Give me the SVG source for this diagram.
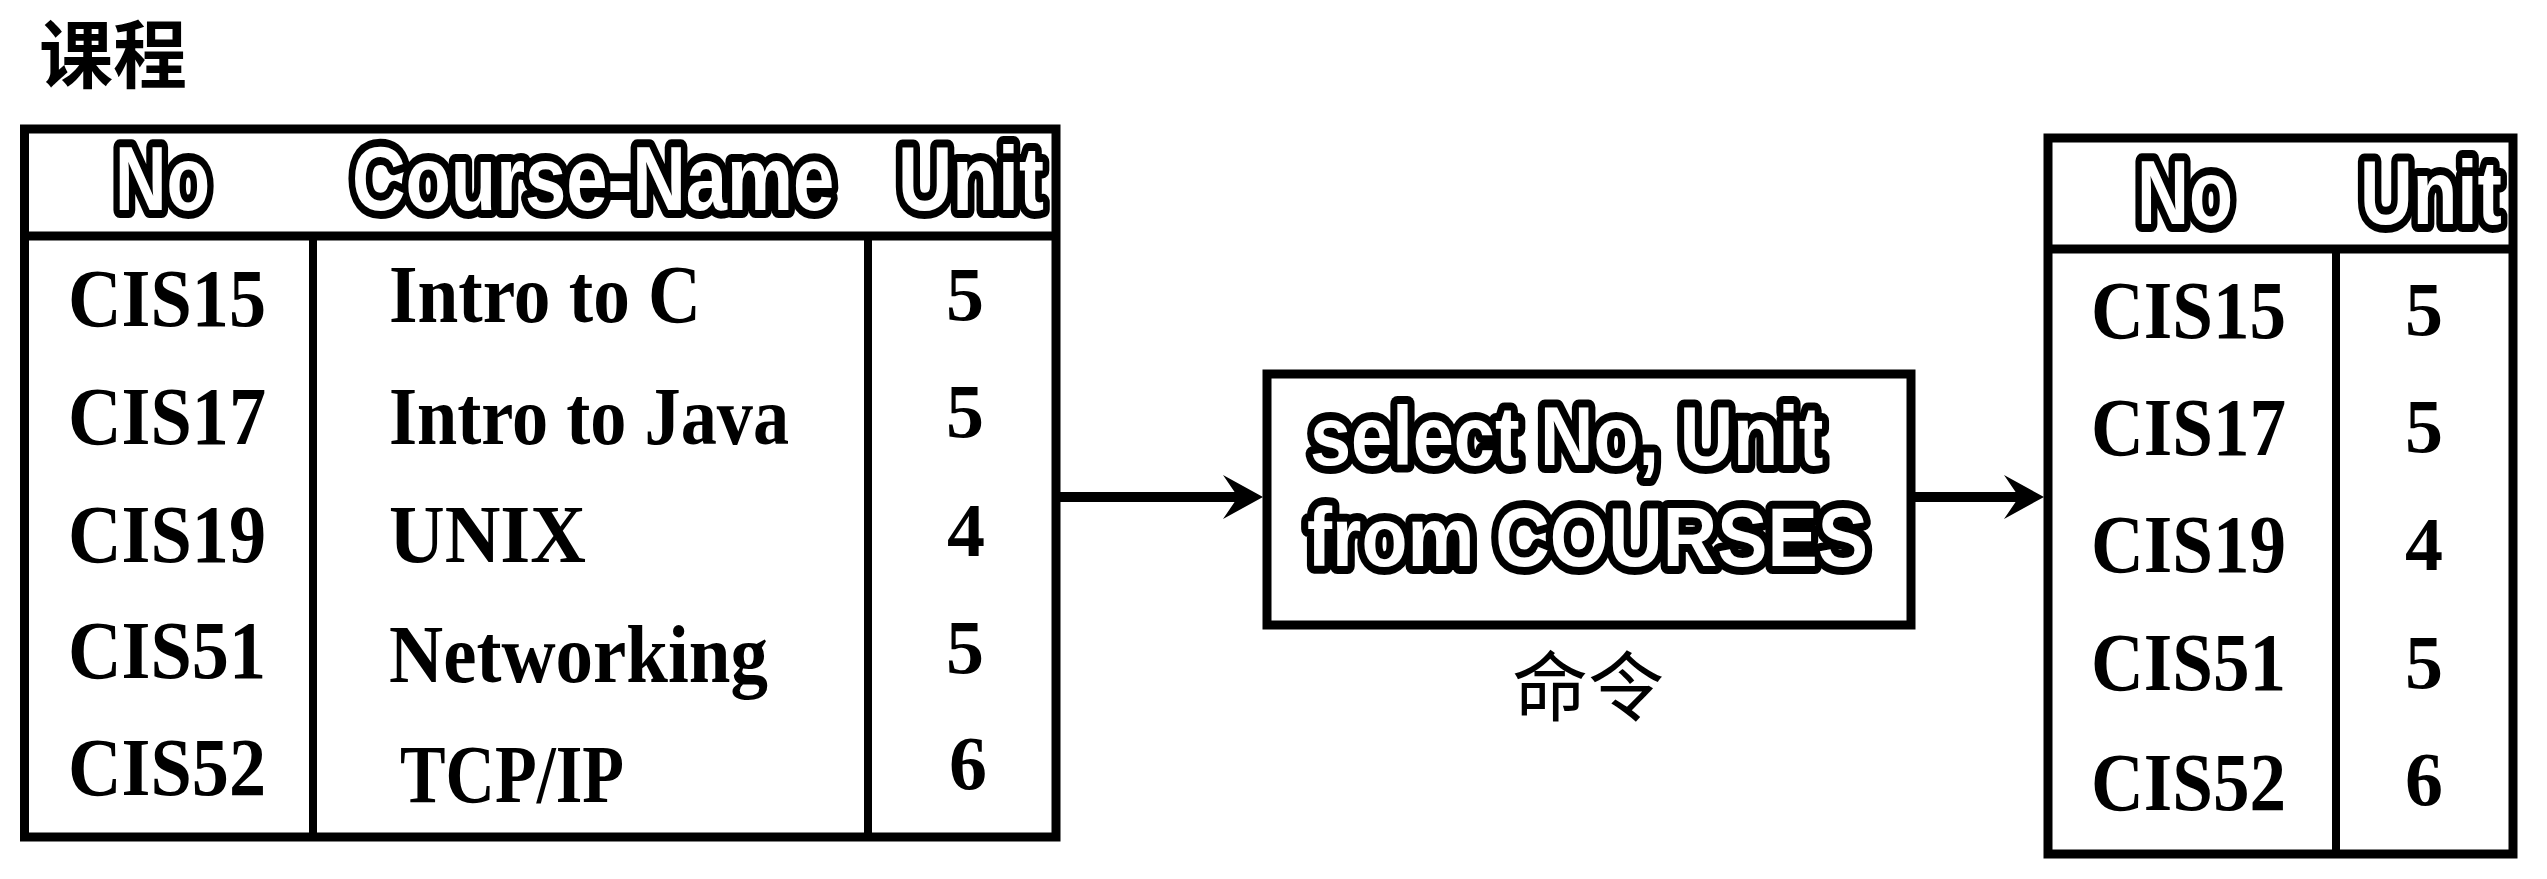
<svg xmlns="http://www.w3.org/2000/svg" width="2547" height="879" viewBox="0 0 2547 879">
<style>
.frame{fill:none;stroke:#000;stroke-width:9}
.rule{stroke:#000;stroke-width:9}
.div{stroke:#000;stroke-width:8}
.hd{font-family:"Liberation Sans",Arial,sans-serif;font-weight:bold;fill:#fff;stroke:#000;stroke-width:16;stroke-linejoin:round;paint-order:stroke}
.cell{font-family:"Liberation Serif","Times New Roman",serif;font-weight:bold;font-size:82px;fill:#000}
.num{font-family:"Liberation Serif","Times New Roman",serif;font-weight:bold;font-size:76px;fill:#000;text-anchor:middle}
.cjk{font-family:"Noto Sans CJK SC",sans-serif;fill:#000}
.conn{stroke:#000;stroke-width:10;fill:none}
</style>
<defs>
<marker id="arr" markerUnits="userSpaceOnUse" viewBox="-20 -25 50 50" markerWidth="50" markerHeight="50" refX="0" refY="0" orient="auto">
<path d="M25,0 L-15,-22 L0,0 L-15,22 Z" fill="#000"/>
</marker>
</defs>
<rect width="2547" height="879" fill="#fff"/>

<g id="title">
<text class="cjk" x="39" y="82" font-size="74" font-weight="bold">课程</text>
</g>

<g id="courses-table">
<rect class="frame" x="24.5" y="129" width="1031.5" height="708"/>
<line class="rule" x1="20" y1="236" x2="1060" y2="236"/>
<line class="div" x1="313" y1="236" x2="313" y2="837"/>
<line class="div" x1="868" y1="236" x2="868" y2="837"/>
<text class="hd" transform="translate(115,210) scale(0.82,1)" x="0" y="0" font-size="90" textLength="116" lengthAdjust="spacingAndGlyphs">No</text>
<text class="hd" transform="translate(352,210) scale(0.82,1)" x="0" y="0" font-size="90" textLength="588" lengthAdjust="spacingAndGlyphs">Course-Name</text>
<text class="hd" transform="translate(898,210) scale(0.82,1)" x="0" y="0" font-size="90" textLength="178" lengthAdjust="spacingAndGlyphs">Unit</text>
<text class="cell" x="68" y="326" textLength="198" lengthAdjust="spacingAndGlyphs">CIS15</text>
<text class="cell" x="68" y="444" textLength="198" lengthAdjust="spacingAndGlyphs">CIS17</text>
<text class="cell" x="68" y="562" textLength="198" lengthAdjust="spacingAndGlyphs">CIS19</text>
<text class="cell" x="68" y="678" textLength="198" lengthAdjust="spacingAndGlyphs">CIS51</text>
<text class="cell" x="68" y="795" textLength="198" lengthAdjust="spacingAndGlyphs">CIS52</text>
<text class="cell" x="389" y="322" textLength="312" lengthAdjust="spacingAndGlyphs">Intro to C</text>
<text class="cell" x="389" y="444" textLength="400" lengthAdjust="spacingAndGlyphs">Intro to Java</text>
<text class="cell" x="389" y="562" textLength="197" lengthAdjust="spacingAndGlyphs">UNIX</text>
<text class="cell" x="389" y="682" textLength="379" lengthAdjust="spacingAndGlyphs">Networking</text>
<text class="cell" x="400" y="802" textLength="224" lengthAdjust="spacingAndGlyphs">TCP/IP</text>
<text class="num" x="965" y="320">5</text>
<text class="num" x="965" y="437">5</text>
<text class="num" x="966" y="556">4</text>
<text class="num" x="965" y="673">5</text>
<text class="num" x="968" y="789">6</text>
</g>

<g id="command">
<rect class="frame" x="1267" y="374" width="644" height="251"/>
<text class="hd" transform="translate(1310,465) scale(0.82,1)" x="0" y="0" font-size="84" textLength="626" lengthAdjust="spacingAndGlyphs">select No, Unit</text>
<text class="hd" transform="translate(1307,566) scale(0.82,1)" x="0" y="0" font-size="84" textLength="684" lengthAdjust="spacingAndGlyphs">from COURSES</text>
<text class="cjk" x="1588" y="715" font-size="76" text-anchor="middle">命令</text>
</g>

<g id="result-table">
<rect class="frame" x="2048" y="138" width="465" height="716"/>
<line class="rule" x1="2044" y1="249" x2="2517" y2="249"/>
<line class="div" x1="2336" y1="249" x2="2336" y2="854"/>
<text class="hd" transform="translate(2137,224) scale(0.82,1)" x="0" y="0" font-size="90" textLength="117" lengthAdjust="spacingAndGlyphs">No</text>
<text class="hd" transform="translate(2360,224) scale(0.82,1)" x="0" y="0" font-size="90" textLength="173" lengthAdjust="spacingAndGlyphs">Unit</text>
<text class="cell" x="2091" y="338" textLength="195" lengthAdjust="spacingAndGlyphs">CIS15</text>
<text class="cell" x="2091" y="455" textLength="195" lengthAdjust="spacingAndGlyphs">CIS17</text>
<text class="cell" x="2091" y="572" textLength="195" lengthAdjust="spacingAndGlyphs">CIS19</text>
<text class="cell" x="2091" y="690" textLength="195" lengthAdjust="spacingAndGlyphs">CIS51</text>
<text class="cell" x="2091" y="810" textLength="195" lengthAdjust="spacingAndGlyphs">CIS52</text>
<text class="num" x="2424" y="335">5</text>
<text class="num" x="2424" y="452">5</text>
<text class="num" x="2424" y="570">4</text>
<text class="num" x="2424" y="688">5</text>
<text class="num" x="2424" y="805">6</text>
</g>

<g id="connectors">
<line class="conn" x1="1060" y1="497" x2="1238" y2="497" marker-end="url(#arr)"/>
<line class="conn" x1="1915" y1="497" x2="2019" y2="497" marker-end="url(#arr)"/>
</g>
</svg>
